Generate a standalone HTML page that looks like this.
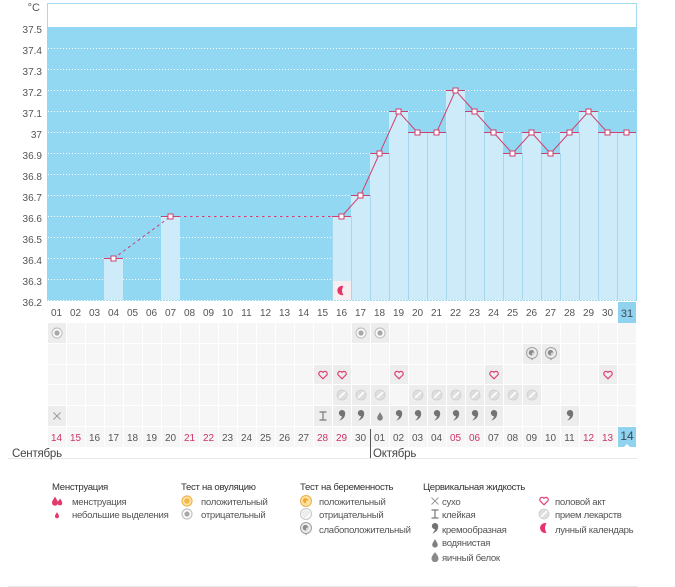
<!DOCTYPE html>
<html><head><meta charset="utf-8">
<style>
html,body{margin:0;padding:0;background:#fff;}
body{width:675px;height:587px;overflow:hidden;}
svg{display:block;font-family:"Liberation Sans","DejaVu Sans",sans-serif;}
.yl{font-size:10px;fill:#555;text-anchor:end;}
.dl{font-size:10px;fill:#555;text-anchor:middle;}
.rd{fill:#cc3366;}
.lh{font-size:9.6px;fill:#333;letter-spacing:-0.3px;}
.li{font-size:9.6px;fill:#555;letter-spacing:-0.3px;}
</style></head>
<body>
<svg width="675" height="587" viewBox="0 0 675 587" xmlns="http://www.w3.org/2000/svg">
<defs>
<pattern id="cp" x="47" y="0" width="19" height="600" patternUnits="userSpaceOnUse"><rect x="1" y="0" width="18" height="600" fill="#f6f6f7"/></pattern>
<g id="ovneg"><circle r="5" fill="#fbfbfb" stroke="#c4c4c4" stroke-width="1.2"/><circle r="2.6" fill="#a8a8a8"/></g>
<g id="ovpos"><circle r="5" fill="#fde6b0" stroke="#f2b54e" stroke-width="1.2"/><circle r="2.8" fill="#f4b844"/></g>
<g id="pgweak"><circle r="5.5" fill="#ececec" stroke="#a0a0a0" stroke-width="1"/><circle cx="-0.5" cy="-0.3" r="2.8" fill="#8c8c8c"/><circle cx="1.2" cy="0.8" r="1.3" fill="#d6d6d6"/><path d="M-1.5,5.2 L0,7.5 L1.5,5.2 Z" fill="#a0a0a0"/></g>
<g id="pgpos"><circle r="5.5" fill="#fde2a0" stroke="#eeb04a" stroke-width="1"/><circle cx="-0.5" cy="-0.3" r="2.6" fill="#f0a830"/><circle cx="1.2" cy="0.8" r="1.2" fill="#fde9c0"/></g>
<g id="pgneg"><circle r="5.5" fill="#f8f8f8" stroke="#c8c8c8" stroke-width="1"/><path d="M-3,2 L2,-3 M-2,3.5 L3.5,-2 M-4,0 L0,-4" stroke="#dddddd" stroke-width="0.8"/></g>
<g id="heart"><path d="M0,3.8 L-3.8,0 A2.1,2.1 0 0 1 0,-2.6 A2.1,2.1 0 0 1 3.8,0 Z" fill="none" stroke="#e0406f" stroke-width="1.2" stroke-linejoin="round"/></g>
<g id="pill"><circle r="5" fill="#dedede" stroke="#cfcfcf" stroke-width="0.8"/><path d="M-3,3 L3,-3" stroke="#fcfcfc" stroke-width="1.8"/></g>
<g id="comma"><path d="M-3.2,-2 A3.2,3.2 0 1 1 3.2,-1.5 C3.2,2 1,4.5 -2.8,5.6 C-0.8,3.6 -0.2,2.2 0,1.2 A3.2,3.2 0 0 1 -3.2,-2 Z" fill="#737373"/></g>
<g id="drop"><path d="M0,-4 C1.2,-1.5 2.8,0.3 2.8,1.8 A2.8,2.8 0 0 1 -2.8,1.8 C-2.8,0.3 -1.2,-1.5 0,-4 Z" fill="#808080"/></g>
<g id="egg"><path d="M0,-4.8 C2,-2.6 3.5,-0.4 3.5,1.6 A3.5,3.5 0 0 1 -3.5,1.6 C-3.5,-0.4 -2,-2.6 0,-4.8 Z" fill="#8a8a8a"/></g>
<g id="cross"><path d="M-3.5,-3.5 L3.5,3.5 M-3.5,3.5 L3.5,-3.5" stroke="#9a9a9a" stroke-width="1"/></g>
<g id="ibeam"><path d="M-3.5,-4 L3.5,-4 M0,-4 L0,4 M-3.5,4 L3.5,4" stroke="#7a7a7a" stroke-width="1.2"/></g>
<g id="moon"><path d="M1.5,-4.8 A5,5 0 1 0 1.5,4.8 A8.4,8.4 0 0 1 1.5,-4.8 Z" fill="#e8336a"/></g>
<g id="mens"><path d="M-2,-4.5 C-0.8,-2 1,0 1,1.8 A3,3 0 0 1 -5,1.8 C-5,0 -3.2,-2 -2,-4.5 Z" fill="#e23a6a"/><path d="M3,-2.5 C4,-0.8 5.3,0.6 5.3,2 A2.4,2.4 0 0 1 0.5,2 C0.5,0.6 2,-0.8 3,-2.5 Z" fill="#e23a6a"/></g>
<g id="smdrop"><path d="M0,-3 C0.8,-1.3 2,0 2,1.2 A2,2 0 0 1 -2,1.2 C-2,0 -0.8,-1.3 0,-3 Z" fill="#e23a6a"/></g>
</defs>

<!-- chart area -->
<rect x="47.5" y="3.5" width="589" height="297" fill="#fff" stroke="#a4dbf0" stroke-width="1"/>
<rect x="47" y="27" width="590" height="273" fill="#93d8f2"/>
<g stroke="#ffffff" stroke-width="1" stroke-dasharray="1,2">
<line x1="48" y1="48.5" x2="636" y2="48.5"/>
<line x1="48" y1="69.5" x2="636" y2="69.5"/>
<line x1="48" y1="90.5" x2="636" y2="90.5"/>
<line x1="48" y1="111.5" x2="636" y2="111.5"/>
<line x1="48" y1="132.5" x2="636" y2="132.5"/>
<line x1="48" y1="153.5" x2="636" y2="153.5"/>
<line x1="48" y1="174.5" x2="636" y2="174.5"/>
<line x1="48" y1="195.5" x2="636" y2="195.5"/>
<line x1="48" y1="216.5" x2="636" y2="216.5"/>
<line x1="48" y1="237.5" x2="636" y2="237.5"/>
<line x1="48" y1="258.5" x2="636" y2="258.5"/>
<line x1="48" y1="279.5" x2="636" y2="279.5"/>
<line x1="48" y1="300.5" x2="636" y2="300.5"/>
</g>

<!-- bars -->
<g fill="#cdebf9">
<rect x="104" y="258" width="19" height="42"/>
<rect x="161" y="216" width="19" height="84"/>
<rect x="332" y="216" width="19" height="84"/>
<rect x="351" y="195" width="19" height="105"/>
<rect x="370" y="153" width="19" height="147"/>
<rect x="389" y="111" width="19" height="189"/>
<rect x="408" y="132" width="19" height="168"/>
<rect x="427" y="132" width="19" height="168"/>
<rect x="446" y="90" width="19" height="210"/>
<rect x="465" y="111" width="19" height="189"/>
<rect x="484" y="132" width="19" height="168"/>
<rect x="503" y="153" width="19" height="147"/>
<rect x="522" y="132" width="19" height="168"/>
<rect x="541" y="153" width="19" height="147"/>
<rect x="560" y="132" width="19" height="168"/>
<rect x="579" y="111" width="19" height="189"/>
<rect x="598" y="132" width="19" height="168"/>
<rect x="617" y="132" width="19" height="168"/>
</g>
<g stroke="#a6d7ed" stroke-width="1">
<line x1="332.5" y1="216" x2="332.5" y2="300"/>
<line x1="351.5" y1="216" x2="351.5" y2="300"/>
<line x1="370.5" y1="195" x2="370.5" y2="300"/>
<line x1="389.5" y1="153" x2="389.5" y2="300"/>
<line x1="408.5" y1="132" x2="408.5" y2="300"/>
<line x1="427.5" y1="132" x2="427.5" y2="300"/>
<line x1="446.5" y1="132" x2="446.5" y2="300"/>
<line x1="465.5" y1="111" x2="465.5" y2="300"/>
<line x1="484.5" y1="132" x2="484.5" y2="300"/>
<line x1="503.5" y1="153" x2="503.5" y2="300"/>
<line x1="522.5" y1="153" x2="522.5" y2="300"/>
<line x1="541.5" y1="153" x2="541.5" y2="300"/>
<line x1="560.5" y1="153" x2="560.5" y2="300"/>
<line x1="579.5" y1="132" x2="579.5" y2="300"/>
<line x1="598.5" y1="132" x2="598.5" y2="300"/>
<line x1="617.5" y1="132" x2="617.5" y2="300"/>
</g>

<!-- moon cell -->
<rect x="333" y="281" width="18" height="19" fill="#f7eef2"/>
<use href="#moon" transform="translate(342,290.5) scale(0.95)"/>

<!-- bar top lines -->
<g stroke="#d0406f" stroke-width="1">
<line x1="104" y1="258.5" x2="123" y2="258.5"/>
<line x1="161" y1="216.5" x2="180" y2="216.5"/>
<line x1="332" y1="216.5" x2="351" y2="216.5"/>
<line x1="351" y1="195.5" x2="370" y2="195.5"/>
<line x1="370" y1="153.5" x2="389" y2="153.5"/>
<line x1="389" y1="111.5" x2="408" y2="111.5"/>
<line x1="408" y1="132.5" x2="427" y2="132.5"/>
<line x1="427" y1="132.5" x2="446" y2="132.5"/>
<line x1="446" y1="90.5" x2="465" y2="90.5"/>
<line x1="465" y1="111.5" x2="484" y2="111.5"/>
<line x1="484" y1="132.5" x2="503" y2="132.5"/>
<line x1="503" y1="153.5" x2="522" y2="153.5"/>
<line x1="522" y1="132.5" x2="541" y2="132.5"/>
<line x1="541" y1="153.5" x2="560" y2="153.5"/>
<line x1="560" y1="132.5" x2="579" y2="132.5"/>
<line x1="579" y1="111.5" x2="598" y2="111.5"/>
<line x1="598" y1="132.5" x2="617" y2="132.5"/>
<line x1="617" y1="132.5" x2="636" y2="132.5"/>
</g>
<polyline points="113.5,258.5 170.5,216.5 341.5,216.5" fill="none" stroke="#c8407a" stroke-width="1" stroke-dasharray="3,3"/>
<polyline points="341.5,216.5 360.5,195.5 379.5,153.5 398.5,111.5 417.5,132.5 436.5,132.5 455.5,90.5 474.5,111.5 493.5,132.5 512.5,153.5 531.5,132.5 550.5,153.5 569.5,132.5 588.5,111.5 607.5,132.5 626.5,132.5" fill="none" stroke="#d0406f" stroke-width="1"/>
<g fill="#fff" stroke="#d0406f" stroke-width="1">
<rect x="111" y="256" width="5" height="5"/>
<rect x="168" y="214" width="5" height="5"/>
<rect x="339" y="214" width="5" height="5"/>
<rect x="358" y="193" width="5" height="5"/>
<rect x="377" y="151" width="5" height="5"/>
<rect x="396" y="109" width="5" height="5"/>
<rect x="415" y="130" width="5" height="5"/>
<rect x="434" y="130" width="5" height="5"/>
<rect x="453" y="88" width="5" height="5"/>
<rect x="472" y="109" width="5" height="5"/>
<rect x="491" y="130" width="5" height="5"/>
<rect x="510" y="151" width="5" height="5"/>
<rect x="529" y="130" width="5" height="5"/>
<rect x="548" y="151" width="5" height="5"/>
<rect x="567" y="130" width="5" height="5"/>
<rect x="586" y="109" width="5" height="5"/>
<rect x="605" y="130" width="5" height="5"/>
<rect x="624" y="130" width="5" height="5"/>
</g>

<!-- y labels -->
<text x="40" y="11" class="yl" style="font-size:11px">°C</text>
<text x="42" y="33" class="yl">37.5</text>
<text x="42" y="54" class="yl">37.4</text>
<text x="42" y="75" class="yl">37.3</text>
<text x="42" y="96" class="yl">37.2</text>
<text x="42" y="117" class="yl">37.1</text>
<text x="42" y="138" class="yl">37</text>
<text x="42" y="159" class="yl">36.9</text>
<text x="42" y="180" class="yl">36.8</text>
<text x="42" y="201" class="yl">36.7</text>
<text x="42" y="222" class="yl">36.6</text>
<text x="42" y="243" class="yl">36.5</text>
<text x="42" y="264" class="yl">36.4</text>
<text x="42" y="285" class="yl">36.3</text>
<text x="42" y="306" class="yl">36.2</text>

<!-- top day labels -->
<rect x="618" y="302" width="18" height="21" fill="#8fd3ee"/>
<g class="dl">
<text x="56.5" y="316">01</text><text x="75.5" y="316">02</text><text x="94.5" y="316">03</text><text x="113.5" y="316">04</text><text x="132.5" y="316">05</text><text x="151.5" y="316">06</text><text x="170.5" y="316">07</text><text x="189.5" y="316">08</text><text x="208.5" y="316">09</text><text x="227.5" y="316">10</text><text x="246.5" y="316">11</text><text x="265.5" y="316">12</text><text x="284.5" y="316">13</text><text x="303.5" y="316">14</text><text x="322.5" y="316">15</text><text x="341.5" y="316">16</text><text x="360.5" y="316">17</text><text x="379.5" y="316">18</text><text x="398.5" y="316">19</text><text x="417.5" y="316">20</text><text x="436.5" y="316">21</text><text x="455.5" y="316">22</text><text x="474.5" y="316">23</text><text x="493.5" y="316">24</text><text x="512.5" y="316">25</text><text x="531.5" y="316">26</text><text x="550.5" y="316">27</text><text x="569.5" y="316">28</text><text x="588.5" y="316">29</text><text x="607.5" y="316">30</text><text x="627" y="317" style="font-size:11px;fill:#3c4a55">31</text>
</g>

<!-- grid rows -->
<rect x="47" y="323" width="589" height="20" fill="url(#cp)"/>
<rect x="47" y="344" width="589" height="20" fill="url(#cp)"/>
<rect x="47" y="365" width="589" height="19" fill="url(#cp)"/>
<rect x="47" y="385" width="589" height="20" fill="url(#cp)"/>
<rect x="47" y="406" width="589" height="20" fill="url(#cp)"/>
<rect x="47" y="427" width="589" height="20" fill="url(#cp)"/>

<!-- highlighted cells -->
<g fill="#ededed">
<rect x="48" y="323" width="18" height="20"/><rect x="352" y="323" width="18" height="20"/><rect x="371" y="323" width="18" height="20"/>
<rect x="523" y="344" width="18" height="20"/><rect x="542" y="344" width="18" height="20"/>
<rect x="314" y="365" width="18" height="19"/><rect x="333" y="365" width="18" height="19"/><rect x="390" y="365" width="18" height="19"/><rect x="485" y="365" width="18" height="19"/><rect x="599" y="365" width="18" height="19"/>
<rect x="333" y="385" width="18" height="20"/><rect x="352" y="385" width="18" height="20"/><rect x="371" y="385" width="18" height="20"/><rect x="409" y="385" width="18" height="20"/><rect x="428" y="385" width="18" height="20"/><rect x="447" y="385" width="18" height="20"/><rect x="466" y="385" width="18" height="20"/><rect x="485" y="385" width="18" height="20"/><rect x="504" y="385" width="18" height="20"/><rect x="523" y="385" width="18" height="20"/>
<rect x="48" y="406" width="18" height="20"/><rect x="314" y="406" width="18" height="20"/><rect x="333" y="406" width="18" height="20"/><rect x="352" y="406" width="18" height="20"/><rect x="371" y="406" width="18" height="20"/><rect x="390" y="406" width="18" height="20"/><rect x="409" y="406" width="18" height="20"/><rect x="428" y="406" width="18" height="20"/><rect x="447" y="406" width="18" height="20"/><rect x="466" y="406" width="18" height="20"/><rect x="485" y="406" width="18" height="20"/><rect x="561" y="406" width="18" height="20"/>
</g>

<!-- grid icons -->
<use href="#ovneg" transform="translate(57,333)"/>
<use href="#ovneg" transform="translate(361,333)"/>
<use href="#ovneg" transform="translate(380,333)"/>
<use href="#pgweak" transform="translate(532,353)"/>
<use href="#pgweak" transform="translate(551,353)"/>
<use href="#heart" transform="translate(323,375)"/>
<use href="#heart" transform="translate(342,375)"/>
<use href="#heart" transform="translate(399,375)"/>
<use href="#heart" transform="translate(494,375)"/>
<use href="#heart" transform="translate(608,375)"/>
<use href="#pill" transform="translate(342,395)"/>
<use href="#pill" transform="translate(361,395)"/>
<use href="#pill" transform="translate(380,395)"/>
<use href="#pill" transform="translate(418,395)"/>
<use href="#pill" transform="translate(437,395)"/>
<use href="#pill" transform="translate(456,395)"/>
<use href="#pill" transform="translate(475,395)"/>
<use href="#pill" transform="translate(494,395)"/>
<use href="#pill" transform="translate(513,395)"/>
<use href="#pill" transform="translate(532,395)"/>
<use href="#cross" transform="translate(57,416)"/>
<use href="#ibeam" transform="translate(323,416)"/>
<use href="#comma" transform="translate(342,415)"/>
<use href="#comma" transform="translate(361,415)"/>
<use href="#drop" transform="translate(380,416)"/>
<use href="#comma" transform="translate(399,415)"/>
<use href="#comma" transform="translate(418,415)"/>
<use href="#comma" transform="translate(437,415)"/>
<use href="#comma" transform="translate(456,415)"/>
<use href="#comma" transform="translate(475,415)"/>
<use href="#comma" transform="translate(494,415)"/>
<use href="#comma" transform="translate(570,415)"/>

<!-- bottom dates -->
<rect x="618" y="427" width="18" height="20" fill="#8fd3ee"/>
<path d="M624,447 L627,444 L630,447 Z" fill="#fff"/>
<g class="dl">
<text x="56.5" y="441" class="rd">14</text><text x="75.5" y="441" class="rd">15</text><text x="94.5" y="441">16</text><text x="113.5" y="441">17</text><text x="132.5" y="441">18</text><text x="151.5" y="441">19</text><text x="170.5" y="441">20</text><text x="189.5" y="441" class="rd">21</text><text x="208.5" y="441" class="rd">22</text><text x="227.5" y="441">23</text><text x="246.5" y="441">24</text><text x="265.5" y="441">25</text><text x="284.5" y="441">26</text><text x="303.5" y="441">27</text><text x="322.5" y="441" class="rd">28</text><text x="341.5" y="441" class="rd">29</text><text x="360.5" y="441">30</text><text x="379.5" y="441">01</text><text x="398.5" y="441">02</text><text x="417.5" y="441">03</text><text x="436.5" y="441">04</text><text x="455.5" y="441" class="rd">05</text><text x="474.5" y="441" class="rd">06</text><text x="493.5" y="441">07</text><text x="512.5" y="441">08</text><text x="531.5" y="441">09</text><text x="550.5" y="441">10</text><text x="569.5" y="441">11</text><text x="588.5" y="441" class="rd">12</text><text x="607.5" y="441" class="rd">13</text><text x="627" y="440" style="font-size:12px;fill:#3c4a55">14</text>
</g>

<!-- months -->
<line x1="370.5" y1="429" x2="370.5" y2="458" stroke="#555" stroke-width="1"/>
<line x1="8" y1="458.5" x2="637" y2="458.5" stroke="#e8e8e8" stroke-width="1"/>
<text x="12" y="457" style="font-size:11.5px;fill:#444;letter-spacing:-0.2px">Сентябрь</text>
<text x="373" y="457" style="font-size:11.5px;fill:#444;letter-spacing:-0.2px">Октябрь</text>

<!-- legend -->
<text x="52" y="490" class="lh">Менструация</text>
<use href="#mens" transform="translate(57,501)"/>
<text x="72" y="505" class="li">менструация</text>
<use href="#smdrop" transform="translate(57,515)"/>
<text x="72" y="518" class="li">небольшие выделения</text>

<text x="181" y="490" class="lh">Тест на овуляцию</text>
<use href="#ovpos" transform="translate(187,501)"/>
<text x="201" y="505" class="li">положительный</text>
<use href="#ovneg" transform="translate(187,514)"/>
<text x="201" y="518" class="li">отрицательный</text>

<text x="300" y="490" class="lh">Тест на беременность</text>
<use href="#pgpos" transform="translate(306,501)"/>
<text x="319" y="505" class="li">положительный</text>
<use href="#pgneg" transform="translate(306,514)"/>
<text x="319" y="518" class="li">отрицательный</text>
<use href="#pgweak" transform="translate(306,528)"/>
<text x="319" y="533" class="li">слабоположительный</text>

<text x="423" y="490" class="lh">Цервикальная жидкость</text>
<use href="#cross" transform="translate(435,501)"/>
<text x="442" y="505" class="li">сухо</text>
<use href="#ibeam" transform="translate(435,514)"/>
<text x="442" y="518" class="li">клейкая</text>
<use href="#comma" transform="translate(435,528)"/>
<text x="442" y="533" class="li">кремообразная</text>
<use href="#drop" transform="translate(435,543)"/>
<text x="442" y="546" class="li">водянистая</text>
<use href="#egg" transform="translate(435,557)"/>
<text x="442" y="561" class="li">яичный белок</text>

<use href="#heart" transform="translate(544,501)"/>
<text x="555" y="505" class="li">половой акт</text>
<use href="#pill" transform="translate(544,514)"/>
<text x="555" y="518" class="li">прием лекарств</text>
<use href="#moon" transform="translate(545,528)"/>
<text x="555" y="533" class="li">лунный календарь</text>

<line x1="8" y1="586.5" x2="637" y2="586.5" stroke="#e8e8e8" stroke-width="1"/>
</svg>
</body></html>
